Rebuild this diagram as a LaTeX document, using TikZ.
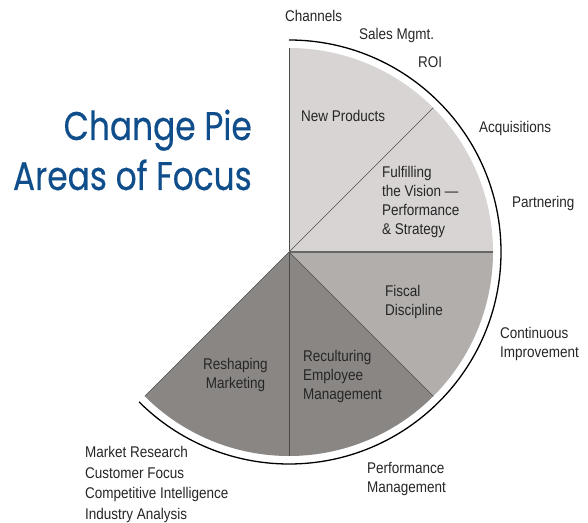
\documentclass[tikz,border=0pt]{standalone}
\usepackage{fontspec}
\usepackage{tikz}
\newfontfamily\condfont[FakeStretch=0.87]{Liberation Sans}
\newfontfamily\titlefont[FakeStretch=0.82, FakeBold=0.4]{Poppins}
\definecolor{titleblue}{RGB}{16,78,139}
\definecolor{pielight}{RGB}{215,212,211}
\definecolor{piemid}{RGB}{177,174,172}
\definecolor{piedark}{RGB}{138,134,132}
\definecolor{pieedge}{RGB}{75,75,75}
\tikzset{
  pielabel/.style={inner sep=0pt, anchor=west, align=left, text=black!85,
    font=\condfont\fontsize{15.5}{19}\selectfont},
  pieline/.style={draw=pieedge, line width=0.6pt},
  titletext/.style={inner sep=0pt, anchor=base east, text=titleblue,
    font=\titlefont\fontsize{40}{48}\selectfont}
}

\begin{document}
\begin{tikzpicture}[x=1pt,y=1pt]
		%%%%% START %%%%%
		\useasboundingbox (0, 0) rectangle (588, 522);
		\coordinate (ctr) at (289, 270);
		
		\fill[pielight] (ctr) -- ++(90:204) arc (90:45:204) -- cycle;
		\fill[pielight] (ctr) -- ++(45:204) arc (45:0:204) -- cycle;
		\fill[piemid] (ctr) -- ++(0:204) arc (0:-45:204) -- cycle;
		\fill[piedark] (ctr) -- ++(-45:204) arc (-45:-90:204) -- cycle;
		\fill[piedark] (ctr) -- ++(-90:204) arc (-90:-135:204) -- cycle;
		
		\draw[pieline] (ctr) -- ++(90:204);
		\draw[pieline] (ctr) -- ++(45:204);
		\draw[pieline] (ctr) -- ++(-45:204);
		\draw[pieline] (ctr) -- ++(-90:204);
		\draw[pieline] (ctr) -- ++(-135:204);
		\draw[draw=black!60, line width=1.6pt] (ctr) -- ++(0:204);
		
		\draw[line width=1.3pt] (ctr) ++(90:212) arc (90:-135:212);
		
		\node[titletext] (title1) at (252, 382) {Change Pie};
		\node[titletext] (title2) at (252, 332) {Areas of Focus};
		
		\node[pielabel] (newprod) at (301, 406) {New Products};
		\node[pielabel] (vision) at (382, 320.5) {Fulfilling\\the Vision \textemdash\\Performance\\\& Strategy};
		\node[pielabel] (fiscal) at (385, 220.5) {Fiscal\\Discipline};
		\node[pielabel] (recult) at (303, 146) {Reculturing\\Employee\\Management};
		\node[pielabel, align=center] (reshape) at (203, 147.5) {Reshaping\\Marketing};
		
		\node[pielabel] (channels) at (285, 506) {Channels};
		\node[pielabel] (salesmgmt) at (359, 487) {Sales Mgmt.};
		\node[pielabel] (roi) at (418, 460) {ROI};
		\node[pielabel] (acquis) at (479, 394) {Acquisitions};
		\node[pielabel] (partner) at (512, 319) {Partnering};
		\node[pielabel] (contimp) at (500, 178.5) {Continuous\\Improvement};
		\node[pielabel] (perfmgmt) at (367, 43.5) {Performance\\Management};
		\node[pielabel, font=\condfont\fontsize{15.5}{20.5}\selectfont] (market) at (85, 37.5) {Market Research\\Customer Focus\\Competitive Intelligence\\Industry Analysis};
		%%%%% END %%%%%
	\end{tikzpicture}
\end{document}
